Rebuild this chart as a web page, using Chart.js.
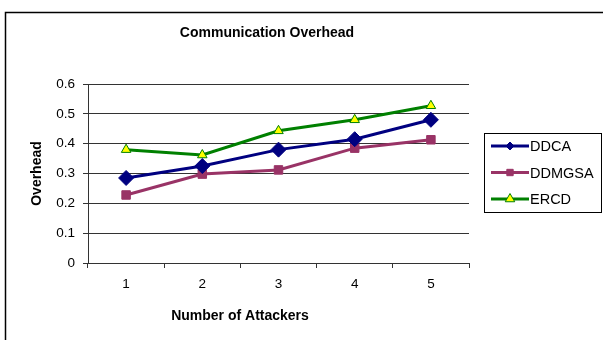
<!DOCTYPE html>
<html>
<head>
<meta charset="utf-8">
<script src="https://cdn.jsdelivr.net/npm/chart.js@4.4.0/dist/chart.umd.min.js"></script>
<style>
  html, body { margin: 0; padding: 0; background: #fff; }
  #wrap { width: 603px; height: 340px; position: relative; }
</style>
</head>
<body>
<div id="wrap"><canvas id="c" width="603" height="340"></canvas></div>
<script>
// Data
const categories = ['1', '2', '3', '4', '5'];
const ddca = [0.285, 0.325, 0.38, 0.415, 0.48];
const ddmgsa = [0.228, 0.298, 0.312, 0.385, 0.413];
const ercd = [0.38, 0.362, 0.443, 0.48, 0.527];
const yTickLabels = ['0', '0.1', '0.2', '0.3', '0.4', '0.5', '0.6'];
const seriesNames = ['DDCA', 'DDMGSA', 'ERCD'];
const chartTitle = 'Communication Overhead';
const xAxisTitle = 'Number of Attackers';
const yAxisTitle = 'Overhead';

const FONT = '"Liberation Sans", Arial, sans-serif';

// Frame, title, x-axis title and legend box
const decorations = {
  id: 'decorations',
  beforeDraw(chart) {
    const ctx = chart.ctx;
    ctx.save();
    ctx.strokeStyle = '#000';
    ctx.lineWidth = 1.5;
    ctx.beginPath();
    ctx.moveTo(5.5, 340);
    ctx.lineTo(5.5, 12.5);
    ctx.lineTo(603, 12.5);
    ctx.stroke();
    ctx.restore();
  },
  afterDraw(chart) {
    const ctx = chart.ctx;
    ctx.save();
    ctx.fillStyle = '#000';
    ctx.textAlign = 'center';
    ctx.textBaseline = 'middle';
    ctx.font = 'bold 14px ' + FONT;
    ctx.fillText(chartTitle, 267, 33);
    ctx.fillText(xAxisTitle, 240, 316);

    // legend
    ctx.strokeStyle = '#000';
    ctx.lineWidth = 1;
    ctx.strokeRect(484.5, 133.5, 117, 79);
    chart.data.datasets.forEach((ds, i) => {
      const y = 146 + i * 26.5;
      ctx.strokeStyle = ds.borderColor;
      ctx.lineWidth = ds.borderWidth;
      ctx.beginPath();
      ctx.moveTo(491, y);
      ctx.lineTo(529, y);
      ctx.stroke();
      ctx.fillStyle = ds.pointBackgroundColor;
      ctx.strokeStyle = ds.pointBorderColor;
      ctx.lineWidth = ds.pointBorderWidth;
      Chart.helpers.drawPoint(ctx, {
        pointStyle: ds.pointStyle,
        radius: ds.legendRadius,
        borderWidth: ds.pointBorderWidth,
        rotation: 0
      }, 510, y);
      ctx.fillStyle = '#000';
      ctx.textAlign = 'left';
      ctx.font = '14.5px ' + FONT;
      ctx.fillText(ds.label, 530, y + 1);
    });
    ctx.restore();
  }
};

new Chart(document.getElementById('c'), {
  type: 'line',
  data: {
    labels: categories,
    datasets: [
      {
        label: seriesNames[0], data: ddca,
        borderColor: '#000080', backgroundColor: '#000080',
        pointBackgroundColor: '#000080', pointBorderColor: '#000080',
        borderWidth: 3, pointStyle: 'rectRot', pointRadius: 7.5,
        pointBorderWidth: 1, legendRadius: 4
      },
      {
        label: seriesNames[1], data: ddmgsa,
        borderColor: '#993366', backgroundColor: '#993366',
        pointBackgroundColor: '#993366', pointBorderColor: '#993366',
        borderWidth: 3, pointStyle: 'rect', pointRadius: 6,
        pointBorderWidth: 1, legendRadius: 4.5
      },
      {
        label: seriesNames[2], data: ercd,
        borderColor: '#008000', backgroundColor: '#008000',
        pointBackgroundColor: '#FFFF00', pointBorderColor: '#008000',
        borderWidth: 3, pointStyle: 'triangle', pointRadius: 5.5,
        pointBorderWidth: 1, legendRadius: 5.5
      }
    ]
  },
  options: {
    responsive: false,
    animation: false,
    devicePixelRatio: 1,
    layout: { padding: { top: 84, right: 134, bottom: 0, left: 0 } },
    plugins: {
      legend: { display: false },
      title: { display: false },
      tooltip: { enabled: false }
    },
    elements: { line: { tension: 0 } },
    scales: {
      x: {
        offset: true,
        grid: { offset: true, drawOnChartArea: false, drawTicks: true, tickLength: 5, color: '#333' },
        border: { display: true, color: '#333', width: 1 },
        ticks: { color: '#000', font: { family: FONT, size: 13.5 }, padding: 8, maxRotation: 0 },
        afterFit(scale) { scale.height = 77; }
      },
      y: {
        min: 0, max: 0.6,
        grid: { color: '#333', lineWidth: 1, tickLength: 5 },
        border: { display: true, color: '#333', width: 1 },
        ticks: {
          stepSize: 0.1, color: '#000', font: { family: FONT, size: 13.5 }, padding: 8,
          callback: (v, i) => yTickLabels[i]
        },
        title: {
          display: true, text: yAxisTitle, color: '#000',
          font: { family: FONT, size: 14, weight: 'bold' },
          padding: { top: 29, bottom: 0 }
        },
        afterFit(scale) { scale.width = 88; }
      }
    }
  },
  plugins: [decorations]
});
</script>
</body>
</html>
